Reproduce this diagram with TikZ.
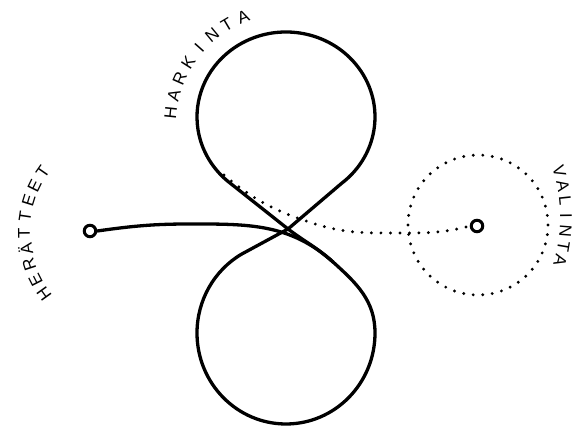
\documentclass[tikz,border=0pt]{standalone}
\usepackage{fontspec}
\setmainfont{Liberation Sans}
\begin{document}
\begin{tikzpicture}[x=1pt,y=1pt,
  curve/.style={line width=3.3pt, line cap=round, line join=round},
  dotline/.style={line width=3.2pt, line cap=round, dash pattern=on 0pt off 9.5pt},
  ring/.style={draw, circle, line width=3pt, minimum size=11.5pt, inner sep=0pt},
  lbl/.style={font=\fontsize{17}{17}\selectfont, inner sep=0pt}]
\useasboundingbox (0,0) rectangle (582,427);
% figure eight
\coordinate (C) at (288,198);
\coordinate (P) at (333,165);
\coordinate (TS) at (341.4,243.5);
\coordinate (BR) at (375,94);
% top lobe
\draw[curve] (C) -- (TS) arc[start angle=-51.5, end angle=231.5, x radius=89, y radius=85] -- (C);
% bottom lobe
\draw[curve] (C) to[out=-37,in=138] (P) to[out=-42,in=90] (BR)
  arc[start angle=0, end angle=-240, x radius=89, y radius=91] -- (C);
% start ring and incoming line
\node[ring] (start) at (90,196) {};
\draw[curve] (start.east) to[out=8,in=180] (190,203) to[out=0,in=138] (P);
% end ring, dotted line and dotted circle
\node[ring] (end) at (477,201) {};
\draw[dotline] (224,252) to[out=-40,in=162] (312,204) to[out=-18,in=180] (400,194) to[out=0,in=195] (end.west);
\draw[line width=3.2pt, line cap=round, dash pattern=on 0pt off 9.56pt] (478,202) circle[radius=70];
% labels
\foreach \l [count=\i from 0] in {H,A,R,K,I,N,T,A} {
  \pgfmathsetmacro\a{174-\i*8.9}
  \path (286,302) ++(\a:116) node[lbl,rotate=\a-90] (h\i) {\l};
}
\foreach \l [count=\i from 0] in {H,E,R,Ä,T,T,E,E,T} {
  \pgfmathsetmacro\a{215.7-\i*8.8}
  \path (130,195) ++(\a:106) node[lbl,rotate=\a-90] (e\i) {\l};
}
\foreach \l [count=\i from 0] in {V,A,L,I,N,T,A} {
  \pgfmathsetmacro\a{16.2-\i*5.17}
  \path (398,209) ++(\a:168) node[lbl,rotate=\a-90] (v\i) {\l};
}
\end{tikzpicture}
\end{document}
